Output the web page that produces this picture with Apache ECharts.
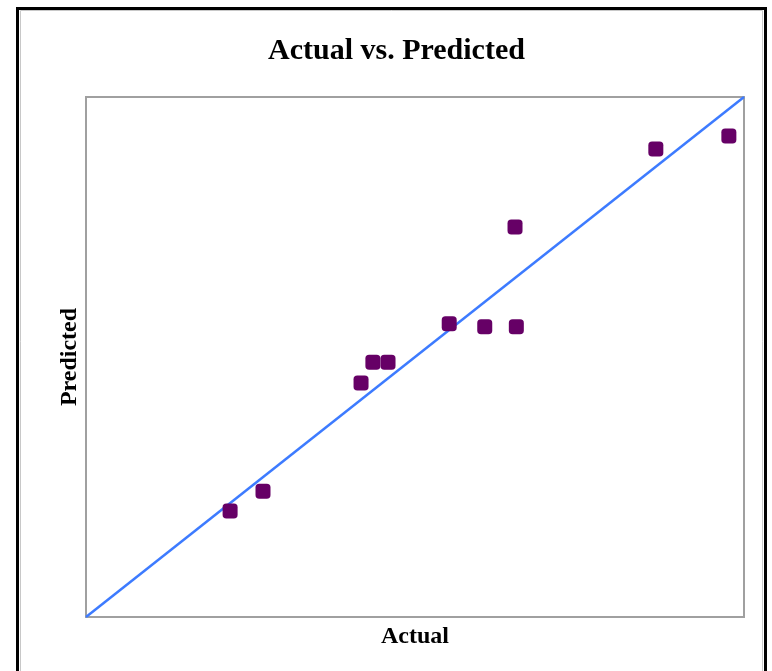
<!DOCTYPE html>
<html>
<head>
<meta charset="utf-8">
<script src="https://cdn.jsdelivr.net/npm/echarts@6/dist/echarts.min.js"></script>
<style>html,body{margin:0;padding:0;background:#fff}#c{width:772px;height:671px}</style>
</head>
<body>
<div id="c"></div>
<script>
var actual = [21.9, 26.9, 41.8, 43.6, 45.9, 55.2, 60.6, 65.4, 65.2, 86.6, 97.7];
var predicted = [20.4, 24.2, 45.0, 49.0, 49.0, 56.4, 55.8, 55.8, 75.0, 90.0, 92.5];
var lineX = [0, 100];
var lineY = [0, 100];

var pts = actual.map(function (a, i) { return [a, predicted[i]]; });
var linePts = lineX.map(function (a, i) { return [a, lineY[i]]; });

var chart = echarts.init(document.getElementById('c'));
chart.setOption({
  animation: false,
  backgroundColor: '#fff',
  grid: { left: 86, top: 97, right: 28, bottom: 54, show: true, borderColor: '#a0a0a0', borderWidth: 2, containLabel: false },
  xAxis: {
    type: 'value', min: 0, max: 100,
    name: 'Actual', nameLocation: 'middle', nameGap: 8,
    nameTextStyle: { fontFamily: 'Liberation Serif', fontWeight: 'bold', fontSize: 24, color: '#000' },
    axisLine: { show: false }, axisTick: { show: false }, axisLabel: { show: false }, splitLine: { show: false }
  },
  yAxis: {
    type: 'value', min: 0, max: 100,
    name: 'Predicted', nameLocation: 'middle', nameGap: 4,
    nameTextStyle: { fontFamily: 'Liberation Serif', fontWeight: 'bold', fontSize: 24, color: '#000' },
    axisLine: { show: false }, axisTick: { show: false }, axisLabel: { show: false }, splitLine: { show: false }
  },
  graphic: [
    { type: 'rect', shape: { x: 17.5, y: 8.5, width: 748, height: 680 }, style: { fill: 'none', stroke: '#000', lineWidth: 3 }, silent: true },
    { type: 'rect', shape: { x: 20.5, y: 10.5, width: 742, height: 680 }, style: { fill: 'none', stroke: '#c8c8c8', lineWidth: 1 }, silent: true },
    { type: 'text', left: 268, top: 36, style: { text: 'Actual vs. Predicted', font: 'bold 30px "Liberation Serif"', fill: '#000' } }
  ],
  series: [
    {
      type: 'line', data: linePts, symbol: 'none',
      lineStyle: { color: '#3d7bff', width: 2.5 }, z: 2
    },
    {
      type: 'scatter', data: pts, symbol: 'roundRect', symbolSize: 15,
      itemStyle: { color: '#660066', opacity: 1 }, z: 3
    }
  ]
});
</script>
</body>
</html>
